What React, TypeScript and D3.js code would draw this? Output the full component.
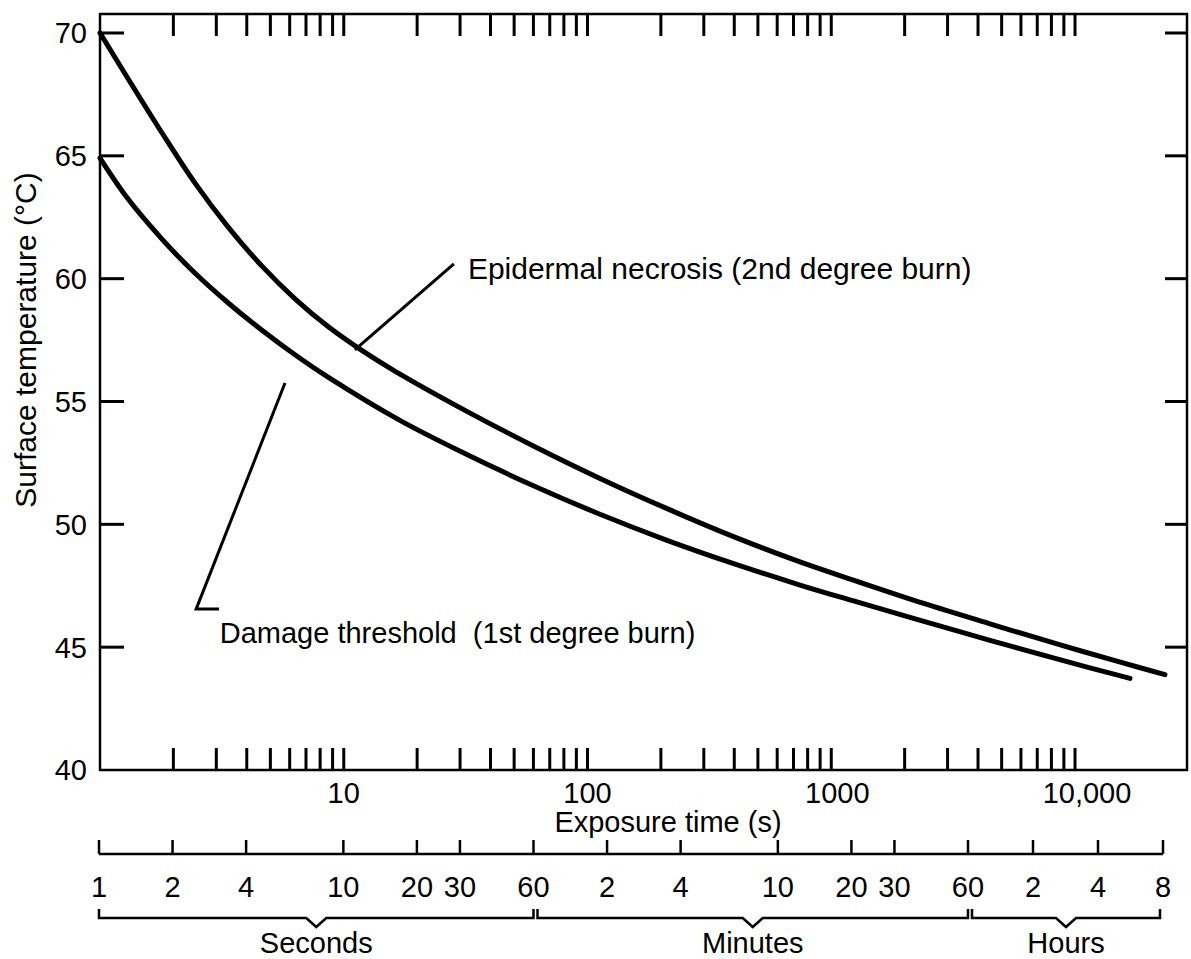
import * as d3 from "d3";
import React, { useEffect, useRef } from "react";

const WIDTH = 1191;
const HEIGHT = 959;
const FONT = "'Liberation Sans', Arial, Helvetica, sans-serif";

// exposure time (s) vs surface temperature (°C)
const necrosisTimes = [1, 1.3, 1.8, 2.45, 3.35, 4.62, 6.31, 8.62, 11.9, 16.2, 32, 59.7, 112.5, 212, 395, 744, 1275, 2378, 4478, 8433, 15730, 23390];
const necrosisTemps = [70.0, 68.16, 65.92, 63.9, 62.11, 60.51, 59.18, 58.05, 57.07, 56.24, 54.6, 53.2, 51.87, 50.64, 49.51, 48.47, 47.68, 46.79, 45.95, 45.13, 44.36, 43.88];
const thresholdTimes = [1, 1.3, 1.8, 2.45, 3.35, 4.62, 6.31, 8.62, 17, 32, 59.7, 112.5, 212, 395, 744, 1275, 2378, 4478, 8433, 16810];
const thresholdTemps = [64.91, 63.26, 61.6, 60.23, 59.02, 57.9, 56.9, 55.99, 54.23, 52.84, 51.58, 50.41, 49.35, 48.41, 47.53, 46.84, 46.06, 45.28, 44.52, 43.73];

const yTicks = [40, 45, 50, 55, 60, 65, 70];
const decadeTicks = [10, 100, 1000, 10000];
const decadeLabels = ["10", "100", "1000", "10,000"];

// second ruler: seconds / minutes / hours, positions in seconds
const rulerTimes = [1, 2, 4, 10, 20, 30, 60, 120, 240, 600, 1200, 1800, 3600, 7200, 14400, 28800];
const rulerLabels = ["1", "2", "4", "10", "20", "30", "60", "2", "4", "10", "20", "30", "60", "2", "4", "8"];
const unitNames = ["Seconds", "Minutes", "Hours"];
const unitStarts = [1, 60, 3600];
const unitEnds = [60, 3600, 28800];

// annotation anchors in data units [time, temp]
const necrosisLeader: [number, number][] = [[28.3, 60.6], [11.1, 57.1]];
const thresholdLeader: [number, number][] = [[5.74, 55.75], [2.48, 46.55], [3.08, 46.55]];
const necrosisLabel = { t: 32.3, temp: 60.0, size: 30, text: "Epidermal necrosis (2nd degree burn)" };
const thresholdLabel = { t: 3.1, temp: 45.15, size: 29, text: "Damage threshold  (1st degree burn)" };

function drawChart(el: SVGSVGElement) {
    const svg = d3.select(el);
    svg.selectAll("*").remove();

    const x = d3.scaleLog().domain([1, 28800]).range([100, 1187]);
    const y = d3.scaleLinear().domain([40, 70]).range([770, 33]);
    const ruler = d3.scaleLog().domain([1, 3600, 28800]).range([99, 968, 1163]);

    const top = 14;
    const left = x(1);
    const right = x(28800);
    const bottom = y(40);

    // frame
    svg.append("rect")
        .attr("x", left)
        .attr("y", top)
        .attr("width", right - left)
        .attr("height", bottom - top)
        .attr("fill", "none")
        .attr("stroke", "#000")
        .attr("stroke-width", 2.5);

    // minor log ticks 2..10 per decade, top and bottom
    const minor = x.ticks().filter((t) => t > 1 && t <= 10000);
    const tickG = svg.append("g").attr("stroke", "#000").attr("stroke-width", 3);
    minor.forEach((t) => {
        tickG.append("line").attr("x1", x(t)).attr("x2", x(t)).attr("y1", bottom).attr("y2", bottom - 22);
        tickG.append("line").attr("x1", x(t)).attr("x2", x(t)).attr("y1", top).attr("y2", top + 22);
    });
    yTicks.filter((v) => v > 40).forEach((v) => {
        tickG.append("line").attr("x1", left).attr("x2", left + 24).attr("y1", y(v)).attr("y2", y(v));
        tickG.append("line").attr("x1", right).attr("x2", right - 22).attr("y1", y(v)).attr("y2", y(v));
    });

    const text = (g: any, size = 29) => g.attr("font-family", FONT).attr("font-size", size).attr("fill", "#000");

    // y tick labels
    svg.append("g").call(text)
        .selectAll("text")
        .data(yTicks)
        .join("text")
        .attr("x", 87)
        .attr("y", (d) => y(d))
        .attr("dy", "0.36em")
        .attr("text-anchor", "end")
        .text((d) => String(d));

    // decade labels
    svg.append("g").call(text)
        .selectAll("text")
        .data(decadeTicks)
        .join("text")
        .attr("x", (d) => x(d))
        .attr("dx", (d, i) => (i === 3 ? 12 : i === 2 ? 6 : 0))
        .attr("y", 803)
        .attr("text-anchor", "middle")
        .text((d, i) => decadeLabels[i]);

    svg.append("text").call(text)
        .attr("x", 668)
        .attr("y", 832)
        .attr("text-anchor", "middle")
        .text("Exposure time (s)");

    svg.append("text").call(text, 30)
        .attr("transform", "translate(36,340) rotate(-90)")
        .attr("text-anchor", "middle")
        .text("Surface temperature (°C)");

    // curves
    const line = d3.line<[number, number]>()
        .x((d) => x(d[0]))
        .y((d) => y(d[1]))
        .curve(d3.curveCatmullRom.alpha(0.5));

    const series = [
        necrosisTimes.map((t, i) => [t, necrosisTemps[i]] as [number, number]),
        thresholdTimes.map((t, i) => [t, thresholdTemps[i]] as [number, number]),
    ];
    series.forEach((pts) => {
        svg.append("path")
            .datum(pts)
            .attr("fill", "none")
            .attr("stroke", "#000")
            .attr("stroke-width", 5)
            .attr("stroke-linecap", "round")
            .attr("d", line);
    });

    // leaders and labels
    const leader = d3.line<[number, number]>().x((d) => x(d[0])).y((d) => y(d[1]));
    [necrosisLeader, thresholdLeader].forEach((pts) => {
        svg.append("path")
            .datum(pts)
            .attr("fill", "none")
            .attr("stroke", "#000")
            .attr("stroke-width", 3)
            .attr("d", leader);
    });
    [necrosisLabel, thresholdLabel].forEach((l) => {
        svg.append("text").call(text, l.size)
            .attr("x", x(l.t))
            .attr("y", y(l.temp))
            .attr("xml:space", "preserve")
            .style("white-space", "pre")
            .text(l.text);
    });

    // second ruler
    const rulerY = 854;
    const rg = svg.append("g").attr("stroke", "#000").attr("stroke-width", 2.5).attr("fill", "none");
    rg.append("line")
        .attr("x1", ruler(rulerTimes[0]))
        .attr("x2", ruler(rulerTimes[rulerTimes.length - 1]))
        .attr("y1", rulerY)
        .attr("y2", rulerY);
    rulerTimes.forEach((t) => {
        rg.append("line").attr("x1", ruler(t)).attr("x2", ruler(t)).attr("y1", rulerY).attr("y2", rulerY - 14);
    });
    svg.append("g").call(text)
        .selectAll("text")
        .data(rulerTimes)
        .join("text")
        .attr("x", (d) => ruler(d))
        .attr("y", 897)
        .attr("text-anchor", "middle")
        .text((d, i) => rulerLabels[i]);

    // braces
    const braceY = 918;
    unitNames.forEach((name, i) => {
        const a = ruler(unitStarts[i]) + (i === 0 ? 0 : 4);
        const b = ruler(unitEnds[i]) - (i === 2 ? 3 : 0);
        const c = (a + b) / 2;
        const p = d3.path();
        p.moveTo(a, braceY - 9);
        p.lineTo(a, braceY);
        p.lineTo(c - 10, braceY);
        p.lineTo(c, braceY + 9);
        p.lineTo(c + 10, braceY);
        p.lineTo(b, braceY);
        p.lineTo(b, braceY - 9);
        svg.append("path")
            .attr("d", p.toString())
            .attr("fill", "none")
            .attr("stroke", "#000")
            .attr("stroke-width", 2.5);
        svg.append("text").call(text)
            .attr("x", c)
            .attr("y", 953)
            .attr("text-anchor", "middle")
            .text(name);
    });
}

export default function App() {
    const svgRef = useRef<SVGSVGElement>(null);

    useEffect(() => {
        document.body.style.margin = "0";
        if (!svgRef.current) return;
        drawChart(svgRef.current);
    }, []);

    return (
        <svg
            ref={svgRef}
            width={WIDTH}
            height={HEIGHT}
            style={{ display: "block", background: "#fff" }}
        />
    );
}
